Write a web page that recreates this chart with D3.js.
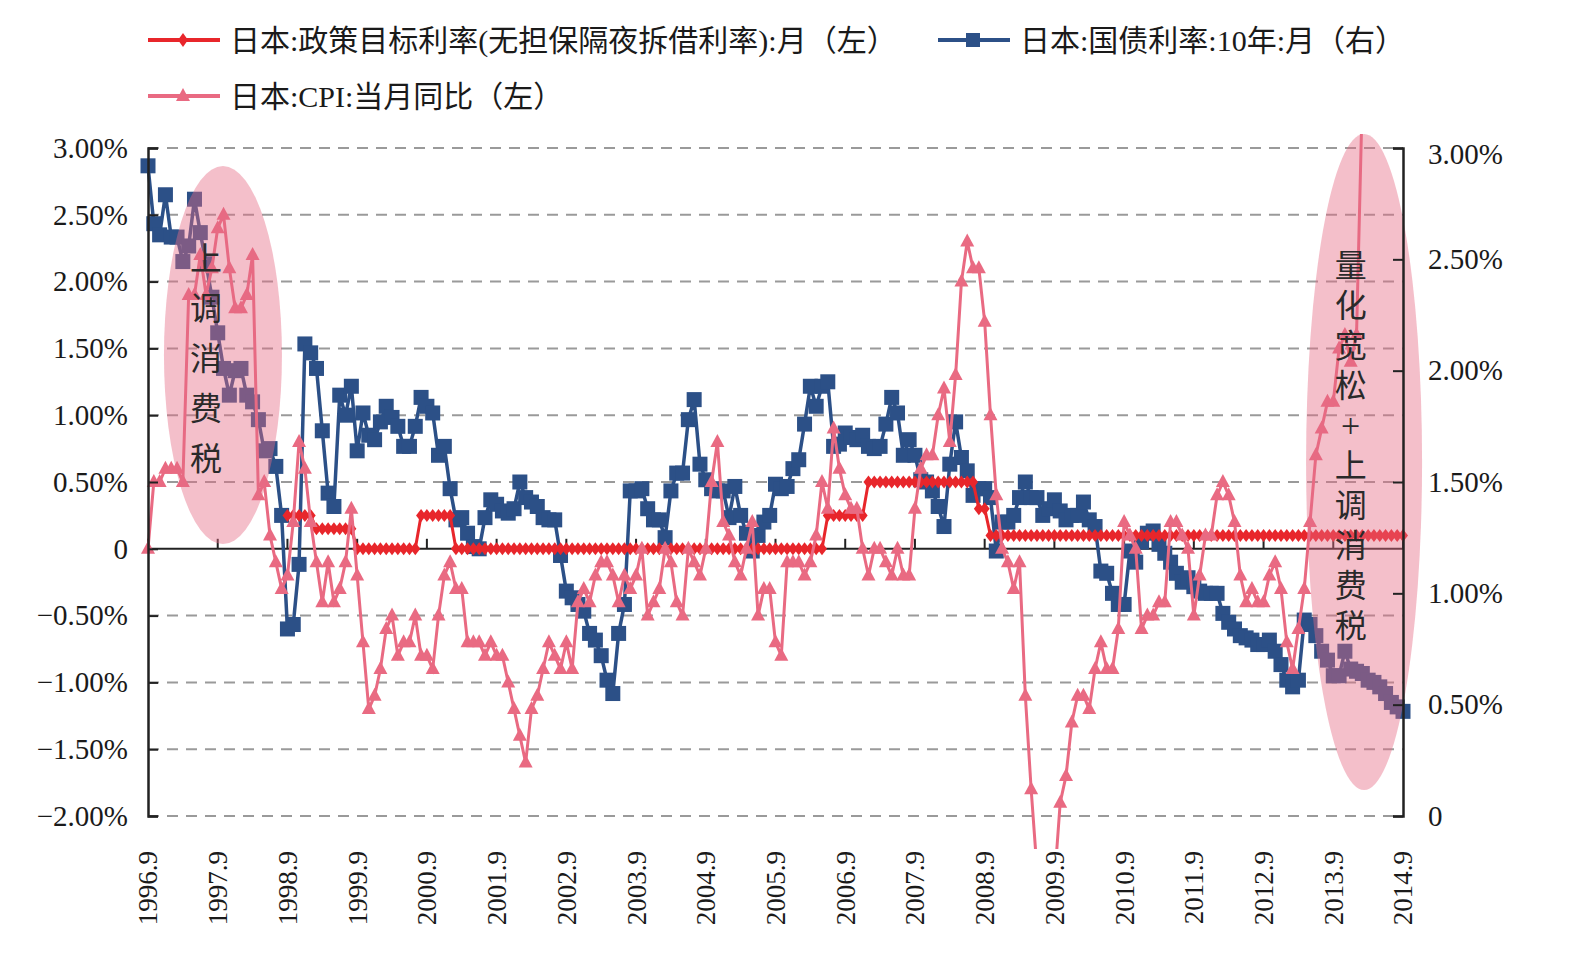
<!DOCTYPE html>
<html>
<head>
<meta charset="utf-8">
<script src="https://cdn.jsdelivr.net/npm/d3@7"></script>
<style>
  body { margin: 0; background: #fff; }
  text { font-family: "Liberation Serif", "Noto Sans CJK SC", serif; fill: #1a1a1a; }
</style>
</head>
<body>
<svg id="chart" width="1570" height="958"></svg>
<script>
// x axis tick labels (one every 12 months)
const tickLabels = ["1996.9", "1997.9", "1998.9", "1999.9", "2000.9", "2001.9", "2002.9", "2003.9", "2004.9",
  "2005.9", "2006.9", "2007.9", "2008.9", "2009.9", "2010.9", "2011.9", "2012.9", "2013.9", "2014.9"];

// 日本:政策目标利率(无担保隔夜拆借利率), % — no data before 1998.9
const policyRate = [
  null, null, null, null, null, null, null, null, null, null, null, null,
  null, null, null, null, null, null, null, null, null, null, null, null,
  0.25, 0.25, 0.25, 0.25, 0.25, 0.15, 0.15, 0.15, 0.15, 0.15, 0.15, 0.15,
  0, 0, 0, 0, 0, 0, 0, 0, 0, 0, 0, 0.25,
  0.25, 0.25, 0.25, 0.25, 0.25, 0, 0, 0, 0, 0, 0, 0,
  0, 0, 0, 0, 0, 0, 0, 0, 0, 0, 0, 0,
  0, 0, 0, 0, 0, 0, 0, 0, 0, 0, 0, 0,
  0, 0, 0, 0, 0, 0, 0, 0, 0, 0, 0, 0,
  0, 0, 0, 0, 0, 0, 0, 0, 0, 0, 0, 0,
  0, 0, 0, 0, 0, 0, 0, 0, 0, 0.25, 0.25, 0.25,
  0.25, 0.25, 0.25, 0.25, 0.5, 0.5, 0.5, 0.5, 0.5, 0.5, 0.5, 0.5,
  0.5, 0.5, 0.5, 0.5, 0.5, 0.5, 0.5, 0.5, 0.5, 0.5, 0.5, 0.3,
  0.3, 0.1, 0.1, 0.1, 0.1, 0.1, 0.1, 0.1, 0.1, 0.1, 0.1, 0.1,
  0.1, 0.1, 0.1, 0.1, 0.1, 0.1, 0.1, 0.1, 0.1, 0.1, 0.1, 0.1,
  0.1, 0.1, 0.1, 0.1, 0.1, 0.1, 0.1, 0.1, 0.1, 0.1, 0.1, 0.1,
  0.1, 0.1, 0.1, 0.1, 0.1, 0.1, 0.1, 0.1, 0.1, 0.1, 0.1, 0.1,
  0.1, 0.1, 0.1, 0.1, 0.1, 0.1, 0.1, 0.1, 0.1, 0.1, 0.1, 0.1,
  0.1, 0.1, 0.1, 0.1, 0.1, 0.1, 0.1, 0.1, 0.1, 0.1, 0.1, 0.1,
  0.1
];

// 日本:国债利率:10年, % (right axis)
const jgb10y = [
  2.92, 2.66, 2.61, 2.79, 2.60, 2.60, 2.49, 2.56, 2.77, 2.62, 2.48, 2.33,
  2.17, 2.01, 1.89, 2.00, 2.01, 1.89, 1.86, 1.78, 1.64, 1.65, 1.57, 1.35,
  0.84, 0.86, 1.13, 2.12, 2.08, 2.01, 1.73, 1.45, 1.39, 1.89, 1.80, 1.93,
  1.64, 1.81, 1.71, 1.69, 1.77, 1.84, 1.79, 1.75, 1.66, 1.66, 1.75, 1.88,
  1.84, 1.81, 1.62, 1.66, 1.47, 1.33, 1.34, 1.27, 1.21, 1.20, 1.34, 1.42,
  1.40, 1.37, 1.36, 1.38, 1.50, 1.43, 1.41, 1.39, 1.34, 1.33, 1.33, 1.17,
  1.01, 0.98, 0.95, 0.92, 0.82, 0.79, 0.72, 0.61, 0.55, 0.82, 0.95, 1.46,
  1.46, 1.47, 1.38, 1.33, 1.33, 1.25, 1.46, 1.54, 1.54, 1.78, 1.87, 1.58,
  1.51, 1.47, 1.46, 1.46, 1.34, 1.48, 1.35, 1.27, 1.19, 1.26, 1.32, 1.35,
  1.49, 1.47, 1.48, 1.56, 1.60, 1.76, 1.93, 1.84, 1.93, 1.95, 1.66, 1.67,
  1.72, 1.70, 1.69, 1.71, 1.66, 1.65, 1.66, 1.76, 1.88, 1.81, 1.62, 1.69,
  1.62, 1.51, 1.50, 1.46, 1.39, 1.30, 1.58, 1.77, 1.61, 1.55, 1.44, 1.47,
  1.47, 1.43, 1.19, 1.32, 1.32, 1.35, 1.43, 1.50, 1.43, 1.43, 1.35, 1.38,
  1.42, 1.37, 1.33, 1.35, 1.35, 1.41, 1.33, 1.30, 1.10, 1.09, 1.00, 0.95,
  0.95, 1.19, 1.14, 1.23, 1.27, 1.28, 1.22, 1.18, 1.14, 1.09, 1.05, 1.07,
  1.03, 1.01, 1.00, 1.00, 1.00, 0.91, 0.87, 0.84, 0.81, 0.80, 0.79, 0.77,
  0.77, 0.79, 0.74, 0.68, 0.61, 0.58, 0.61, 0.88, 0.86, 0.81, 0.74, 0.70,
  0.63, 0.63, 0.74, 0.66, 0.65, 0.64, 0.61, 0.60, 0.58, 0.55, 0.51, 0.49,
  0.47
];

// 日本:CPI:当月同比, % (left axis)
const cpiYoY = [
  0.0, 0.5, 0.5, 0.6, 0.6, 0.6, 0.5, 1.9, 1.9, 2.2, 1.9, 2.1,
  2.4, 2.5, 2.1, 1.8, 1.8, 1.9, 2.2, 0.4, 0.5, 0.1, -0.1, -0.3,
  -0.2, 0.2, 0.8, 0.6, 0.2, -0.1, -0.4, -0.1, -0.4, -0.3, -0.1, 0.3,
  -0.2, -0.7, -1.2, -1.1, -0.9, -0.6, -0.5, -0.8, -0.7, -0.7, -0.5, -0.8,
  -0.8, -0.9, -0.5, -0.2, -0.1, -0.3, -0.3, -0.7, -0.7, -0.7, -0.8, -0.7,
  -0.8, -0.8, -1.0, -1.2, -1.4, -1.6, -1.2, -1.1, -0.9, -0.7, -0.8, -0.9,
  -0.7, -0.9, -0.4, -0.3, -0.4, -0.2, -0.1, -0.1, -0.2, -0.4, -0.2, -0.3,
  -0.2, 0.0, -0.5, -0.4, -0.3, 0.0, -0.1, -0.4, -0.5, 0.0, -0.1, -0.2,
  0.0, 0.5, 0.8, 0.2, 0.1, -0.1, -0.2, 0.0, 0.2, -0.5, -0.3, -0.3,
  -0.7, -0.8, -0.1, -0.1, -0.1, -0.2, -0.1, 0.1, 0.5, 0.3, 0.9, 0.6,
  0.4, 0.3, 0.3, 0.0, -0.2, 0.0, 0.0, -0.1, -0.2, 0.0, -0.2, -0.2,
  0.3, 0.6, 0.7, 0.7, 1.0, 1.2, 0.8, 1.3, 2.0, 2.3, 2.1, 2.1,
  1.7, 1.0, 0.4, 0.0, -0.1, -0.3, -0.1, -1.1, -1.8, -2.4, -2.4, -2.4,
  -2.5, -1.9, -1.7, -1.3, -1.1, -1.1, -1.2, -0.9, -0.7, -0.9, -0.9, -0.6,
  0.2, 0.1, 0.0, -0.6, -0.5, -0.5, -0.4, -0.4, 0.2, 0.2, 0.1, 0.0,
  -0.5, -0.2, 0.1, 0.1, 0.4, 0.5, 0.4, 0.2, -0.2, -0.4, -0.3, -0.4,
  -0.4, -0.2, -0.1, -0.3, -0.7, -0.9, -0.6, -0.3, 0.2, 0.7, 0.9, 1.1,
  1.1, 1.5, 1.6, 1.4, 1.6, 3.4, 3.7, 3.6, 3.4, 3.3, 3.2, 3.2,
  3.2
];

const leftTicks = [-2, -1.5, -1, -0.5, 0, 0.5, 1, 1.5, 2, 2.5, 3];
const rightTicks = [0, 0.5, 1, 1.5, 2, 2.5, 3];

const colors = { policy: "#e8262b", jgb: "#2c5087", cpi: "#e96a82" };

// month categories, starting 1996.9
const months = d3.range(jgb10y.length).map(i => {
  const m = 9 + i;
  return (1996 + Math.floor((m - 1) / 12)) + "." + (((m - 1) % 12) + 1);
});

const svg = d3.select("#chart");
const plot = { left: 148, right: 1403, top: 148, bottom: 816 };

const x = d3.scaleLinear().domain([0, months.length - 1]).range([plot.left, plot.right]);
const yL = d3.scaleLinear().domain([-2, 3]).range([plot.bottom, plot.top]);
const yR = d3.scaleLinear().domain([0, 3]).range([plot.bottom, plot.top]);

const fmt = v => v === 0 ? "0" : (v < 0 ? "\u2212" : "") + Math.abs(v).toFixed(2) + "%";

// clip for the series (plot area is a bit taller than the gridlines)
svg.append("defs").append("clipPath").attr("id", "clip")
  .append("rect").attr("x", plot.left - 10).attr("y", 134)
  .attr("width", plot.right - plot.left + 20).attr("height", 849 - 134);

// dashed gridlines
svg.append("g").selectAll("line")
  .data(leftTicks.filter(d => d !== 0))
  .enter().append("line")
  .attr("x1", plot.left).attr("x2", plot.right)
  .attr("y1", d => yL(d)).attr("y2", d => yL(d))
  .attr("stroke", "#9a9a9a").attr("stroke-width", 2)
  .attr("stroke-dasharray", "11,8");

// category axis on the zero line
const tickIdx = tickLabels.map(t => months.indexOf(t));
const zeroAxis = svg.append("g");
zeroAxis.append("line")
  .attr("x1", plot.left).attr("x2", plot.right)
  .attr("y1", yL(0)).attr("y2", yL(0))
  .attr("stroke", "#222").attr("stroke-width", 2);
zeroAxis.selectAll(".tk").data(tickIdx).enter().append("line")
  .attr("x1", d => x(d)).attr("x2", d => x(d))
  .attr("y1", yL(0)).attr("y2", yL(0) - 10)
  .attr("stroke", "#222").attr("stroke-width", 2);

// x labels at the bottom, rotated
svg.append("g").selectAll("text").data(tickIdx).enter().append("text")
  .attr("transform", d => `translate(${x(d)},851) rotate(-90)`)
  .attr("text-anchor", "end")
  .attr("dy", "0.35em")
  .style("font-size", "27px")
  .text(d => months[d]);

// series
const series = svg.append("g").attr("clip-path", "url(#clip)");

const lineR = d3.line().x((d, i) => x(i)).y(d => yR(d));
const lineL = d3.line().defined(d => d != null).x((d, i) => x(i)).y(d => yL(d));

// 10y JGB
series.append("path").datum(jgb10y)
  .attr("d", lineR).attr("fill", "none")
  .attr("stroke", colors.jgb).attr("stroke-width", 3.5);
series.append("g").selectAll("rect").data(jgb10y).enter().append("rect")
  .attr("x", (d, i) => x(i) - 7.5).attr("y", d => yR(d) - 7.5)
  .attr("width", 15).attr("height", 15)
  .attr("fill", colors.jgb);

// policy rate
series.append("path").datum(policyRate)
  .attr("d", lineL).attr("fill", "none")
  .attr("stroke", colors.policy).attr("stroke-width", 3);
series.append("g").selectAll("path")
  .data(policyRate.map((v, i) => ({ v, i })).filter(d => d.v != null))
  .enter().append("path")
  .attr("d", "M0,-6.5L5,0L0,6.5L-5,0Z")
  .attr("transform", d => `translate(${x(d.i)},${yL(d.v)})`)
  .attr("fill", colors.policy);

// CPI
series.append("path").datum(cpiYoY)
  .attr("d", lineL).attr("fill", "none")
  .attr("stroke", colors.cpi).attr("stroke-width", 3);
series.append("g").selectAll("path")
  .data(cpiYoY).enter().append("path")
  .attr("d", "M0,-8L7,5L-7,5Z")
  .attr("transform", (d, i) => `translate(${x(i)},${yL(d)})`)
  .attr("fill", colors.cpi);

// highlight ellipses
const notes = [
  { cx: 12.9, cy: 1.45, rx: 59, ry: 189, text: "上调消费税", tx: 10, ty: 2.17, step: 50 },
  { cx: 209.3, cy: 0.65, rx: 58, ry: 328, text: "量化宽松+上调消费税", tx: 207, ty: 2.12, step: 40 }
];
notes.forEach(n => {
  svg.append("ellipse")
    .attr("cx", x(n.cx)).attr("cy", yL(n.cy))
    .attr("rx", n.rx).attr("ry", n.ry)
    .attr("fill", "#e66a85").attr("opacity", 0.43);
  const g = svg.append("g");
  Array.from(n.text).forEach((ch, k) => {
    g.append("text")
      .attr("x", x(n.tx)).attr("y", yL(n.ty) + k * n.step)
      .attr("text-anchor", "middle").attr("dominant-baseline", "central")
      .style("font-size", ch === "+" ? "34px" : "32px").style("fill", "#2a2a2a")
      .text(ch);
  });
});

// y axes
const axisL = svg.append("g").attr("transform", `translate(${plot.left},0)`)
  .call(d3.axisLeft(yL).tickValues(leftTicks).tickFormat(fmt)
    .tickSizeInner(-10).tickSizeOuter(-10).tickPadding(20));
const axisR = svg.append("g").attr("transform", `translate(${plot.right},0)`)
  .call(d3.axisRight(yR).tickValues(rightTicks).tickFormat(fmt)
    .tickSizeInner(-10).tickSizeOuter(-10).tickPadding(25));
[axisL, axisR].forEach(a => {
  a.select(".domain").attr("stroke", "#222").attr("stroke-width", 2.5);
  a.selectAll(".tick line").attr("stroke", "#222").attr("stroke-width", 2);
  a.selectAll(".tick text").style("font-size", "29px").attr("fill", "#1a1a1a")
    .style("font-family", "'Liberation Serif', serif");
});
axisR.selectAll(".tick text").filter(d => d === 3).attr("dy", "0.55em");

// legend
const legendItems = [
  { label: "日本:政策目标利率(无担保隔夜拆借利率):月（左）", color: colors.policy, shape: "diamond", x: 148, y: 40 },
  { label: "日本:国债利率:10年:月（右）", color: colors.jgb, shape: "square", x: 938, y: 40 },
  { label: "日本:CPI:当月同比（左）", color: colors.cpi, shape: "triangle", x: 148, y: 96 }
];
const shapes = {
  diamond: "M0,-7L5,0L0,7L-5,0Z",
  square: "M-7,-7H7V7H-7Z",
  triangle: "M0,-8L7,5L-7,5Z"
};
const legend = svg.append("g").selectAll("g").data(legendItems).enter().append("g")
  .attr("transform", d => `translate(${d.x},${d.y})`);
legend.append("line")
  .attr("x1", 0).attr("x2", 72).attr("y1", 0).attr("y2", 0)
  .attr("stroke", d => d.color).attr("stroke-width", 4);
legend.append("path")
  .attr("d", d => shapes[d.shape])
  .attr("transform", "translate(35,0)")
  .attr("fill", d => d.color);
legend.append("text")
  .attr("x", 82).attr("y", 0).attr("dominant-baseline", "central")
  .style("font-size", "30px")
  .text(d => d.label);
</script>
</body>
</html>
